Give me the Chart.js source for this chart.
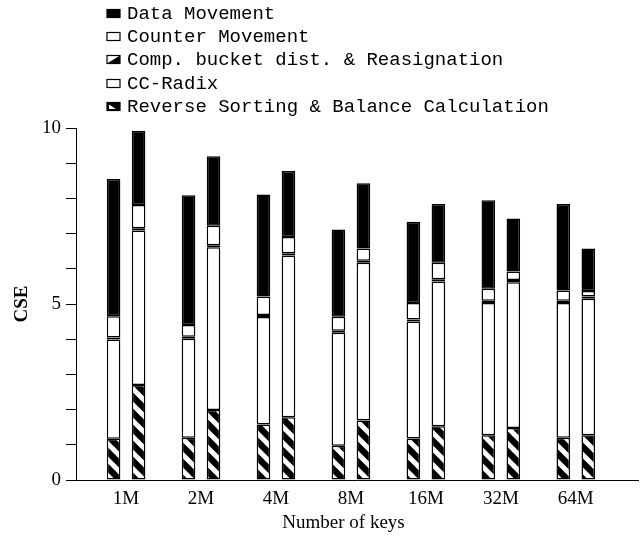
<!DOCTYPE html>
<html>
<head>
<meta charset="utf-8">
<script src="https://cdn.jsdelivr.net/npm/chart.js@4"></script>
<style>
  html, body { margin: 0; padding: 0; background: #fff; }
  #wrap { width: 642px; height: 540px; position: relative; }
</style>
</head>
<body>
<div id="wrap"><canvas id="cse-chart" width="642" height="540"></canvas></div>
<script>
// data (CSE per phase, bottom to top)
const categories = ['1M', '2M', '4M', '8M', '16M', '32M', '64M'];

const seriesNames = [
  'Reverse Sorting & Balance Calculation',
  'CC-Radix',
  'Comp. bucket dist. & Reasignation',
  'Counter Movement',
  'Data Movement'
];

// left bar of every pair
const reverseA = [1.17, 1.20, 1.58, 0.97, 1.18, 1.27, 1.20];
const ccRadixA = [2.82, 2.81, 3.05, 3.21, 3.32, 3.76, 3.83];
const compA    = [0.06, 0.06, 0.06, 0.06, 0.06, 0.06, 0.06];
const counterA = [0.60, 0.33, 0.52, 0.40, 0.47, 0.34, 0.29];
const dataA    = [3.90, 3.69, 2.90, 2.48, 2.31, 2.52, 2.46];

// right bar of every pair
const reverseB = [2.70, 1.99, 1.78, 1.69, 1.53, 1.48, 1.27];
const ccRadixB = [4.39, 4.62, 4.60, 4.48, 4.11, 4.14, 3.88];
const compB    = [0.06, 0.06, 0.06, 0.06, 0.06, 0.06, 0.06];
const counterB = [0.66, 0.55, 0.46, 0.35, 0.47, 0.24, 0.16];
const dataB    = [2.11, 1.98, 1.88, 1.85, 1.67, 1.51, 1.21];

const yTicks = [0, 5, 10];

// hatch patterns
function hatch(dir) {
  const s = 16;
  const c = document.createElement('canvas');
  c.width = s; c.height = s;
  const g = c.getContext('2d');
  g.fillStyle = '#000';
  g.fillRect(0, 0, s, s);
  g.strokeStyle = '#fff';
  g.lineWidth = 5;
  for (const off of [-s, 0, s]) {
    g.beginPath();
    if (dir === '\\') { g.moveTo(off - 2, -2); g.lineTo(off + s + 2, s + 2); }
    else { g.moveTo(off - 2, s + 2); g.lineTo(off + s + 2, -2); }
    g.stroke();
  }
  return g.createPattern(c, 'repeat');
}
const ctx = document.getElementById('cse-chart');
const reversePattern = hatch('\\');
const compPattern = hatch('/');

const fills = [reversePattern, '#fff', compPattern, '#fff', '#000'];
const seriesA = [reverseA, ccRadixA, compA, counterA, dataA];
const seriesB = [reverseB, ccRadixB, compB, counterB, dataB];

const datasets = [];
[['a', seriesA], ['b', seriesB]].forEach(([stack, arrs]) => {
  arrs.forEach((vals, k) => {
    datasets.push({
      label: seriesNames[k],
      stack: stack,
      data: vals.map((v, i) => ({ x: i, y: v })),
      backgroundColor: fills[k],
      borderColor: '#000',
      borderWidth: 1.5,
      borderSkipped: false,
      categoryPercentage: 0.667,
      barPercentage: 0.544
    });
  });
});

// vertical legend + x title, drawn like the original
const legendPlugin = {
  id: 'sideLegend',
  afterDraw(chart) {
    const c = chart.ctx;
    c.save();
    c.font = '19px "Liberation Mono", monospace';
    c.textBaseline = 'middle';
    c.fillStyle = '#000';
    const order = [4, 3, 2, 1, 0];
    order.forEach((k, row) => {
      const y = 13 + row * 23.2;
      const x0 = 107, w = 13, h = 8, top = Math.round(y - h / 2) + 0.5;
      c.lineWidth = 1.2;
      c.strokeStyle = '#000';
      c.fillStyle = k === 4 || k === 0 ? '#000' : '#fff';
      c.fillRect(x0, top, w, h);
      c.fillStyle = '#000';
      if (k === 2) {
        c.beginPath(); c.moveTo(x0, top + h); c.lineTo(x0 + w, top); c.lineTo(x0 + w, top + h); c.closePath(); c.fill();
      } else if (k === 0) {
        c.fillStyle = '#fff';
        c.beginPath(); c.moveTo(x0 + 2, top + 2); c.lineTo(x0 + w - 4, top + h - 1.5); c.lineTo(x0 + 2, top + h - 1.5); c.closePath(); c.fill();
      }
      c.strokeRect(x0, top, w, h);
      c.fillStyle = '#000';
      c.fillText(seriesNames[k], 127, y + 1);
    });
    c.font = '19px "Liberation Serif", serif';
    c.textAlign = 'center';
    c.fillText('Number of keys', 343.5, 523);
    c.restore();
  }
};

new Chart(ctx, {
  type: 'bar',
  data: { datasets: datasets },
  plugins: [legendPlugin],
  options: {
    responsive: false,
    animation: false,
    layout: { padding: { top: 128, right: 4, left: 0, bottom: 0 } },
    plugins: {
      legend: { display: false },
      tooltip: { enabled: false }
    },
    scales: {
      x: {
        type: 'linear',
        stacked: true,
        offset: false,
        min: -0.668,
        max: 6.83,
        afterBuildTicks: axis => { axis.ticks = categories.map((c, i) => ({ value: i })); },
        afterFit: axis => { axis.height = 60; },
        grid: { display: false, drawTicks: false, offset: false },
        border: { display: true, color: '#000', width: 1 },
        ticks: {
          padding: 8,
          color: '#000',
          font: { family: '"Liberation Serif", serif', size: 19 },
          callback: v => categories[v] ?? ''
        }
      },
      y: {
        stacked: true,
        min: 0,
        max: 10,
        afterFit: axis => { axis.width = 76; },
        grid: { drawOnChartArea: false, drawTicks: true, tickLength: 10, color: '#000' },
        border: { display: true, color: '#000', width: 1 },
        ticks: {
          stepSize: 1,
          padding: 5,
          color: '#000',
          font: { family: '"Liberation Serif", serif', size: 19 },
          callback: v => yTicks.includes(v) ? v : ''
        },
        title: {
          display: true,
          text: 'CSE',
          color: '#000',
          padding: { top: 11, bottom: 0 },
          font: { family: '"Liberation Serif", serif', size: 19, weight: 'bold' }
        }
      }
    }
  }
});
</script>
</body>
</html>
